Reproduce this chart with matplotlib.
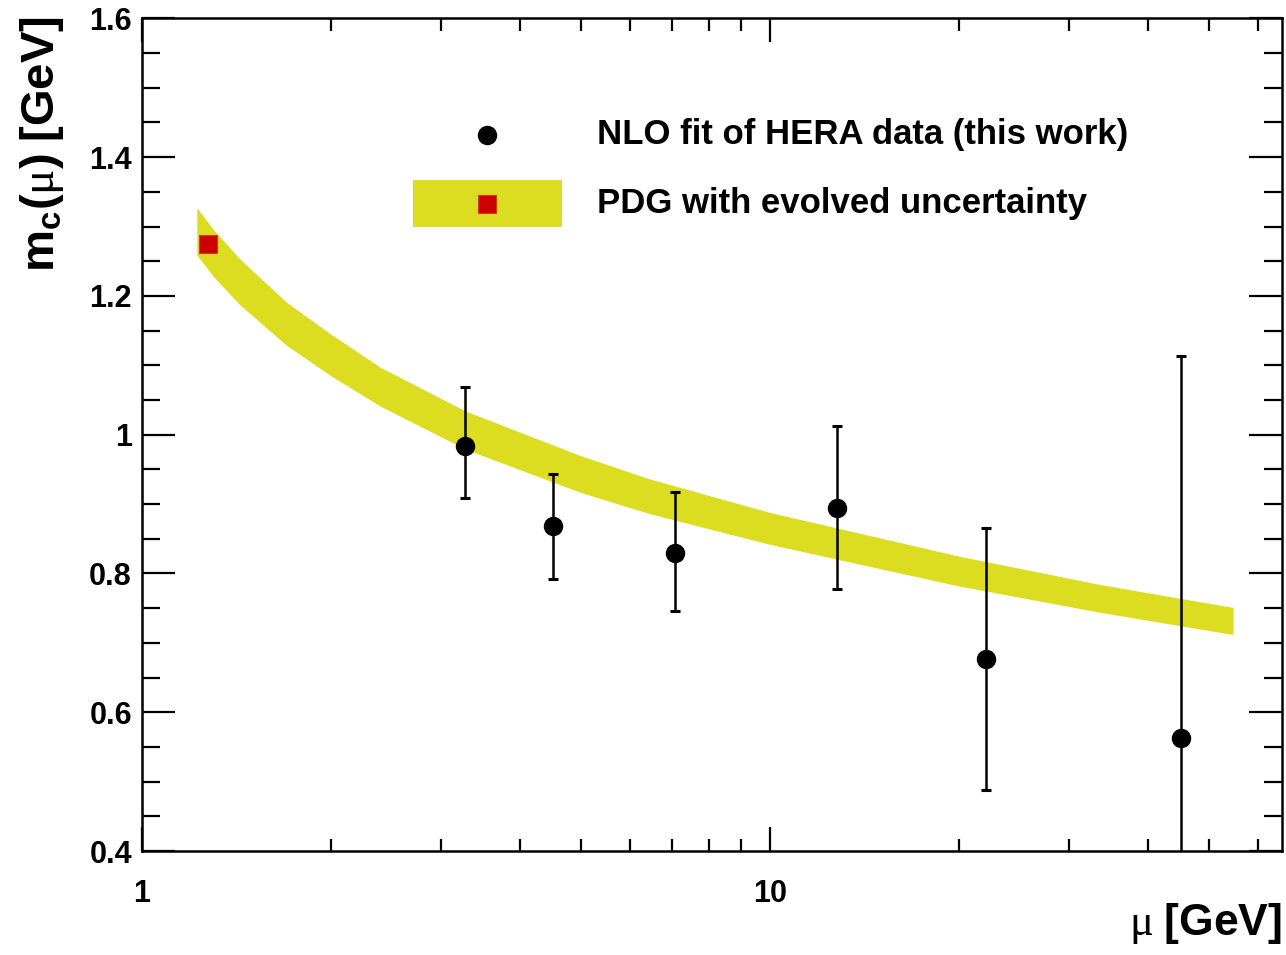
import numpy as np
import matplotlib
matplotlib.use("Agg")
import matplotlib.pyplot as plt
from matplotlib.patches import Rectangle
from matplotlib.ticker import FixedLocator, NullFormatter, FixedFormatter

plt.rcParams.update({
    'font.family': ['Liberation Sans', 'DejaVu Sans'],
    'font.weight': 'bold',
    'mathtext.fontset': 'custom',
    'mathtext.rm': 'Liberation Serif:weight=normal',
    'mathtext.it': 'Liberation Serif:italic:weight=normal',
    'mathtext.bf': 'Liberation Sans:bold',
})

# NLO fit of HERA data (this work)
mu_fit = [3.27, 4.52, 7.07, 12.8, 22.1, 45.2]
mc_fit = [0.984, 0.868, 0.830, 0.895, 0.676, 0.563]
err_up = [0.085, 0.076, 0.088, 0.118, 0.190, 0.550]
err_dn = [0.075, 0.076, 0.084, 0.117, 0.188, 0.550]

# PDG value and evolved uncertainty band
mu_pdg = [1.275]
mc_pdg = [1.275]
mu_band = [1.224, 1.30, 1.434, 1.70, 2.00, 2.40, 3.28, 4.99, 6.45, 10.0, 20.0, 33.6, 54.7]
band_hi = [1.327, 1.296, 1.253, 1.191, 1.145, 1.097, 1.034, 0.970, 0.936, 0.888, 0.825, 0.784, 0.751]
band_lo = [1.259, 1.228, 1.187, 1.129, 1.085, 1.041, 0.979, 0.917, 0.886, 0.842, 0.782, 0.744, 0.712]

yellow = '#dcdc20'
red = '#cc0000'

fig = plt.figure(figsize=(12.86, 9.55), dpi=100)
ax = fig.add_axes([0.1102, 0.1089, 0.8865, 0.8719])

ax.fill_between(mu_band, band_lo, band_hi, color=yellow, lw=0, zorder=1)
ax.plot(mu_pdg, mc_pdg, 's', color=red, ms=13, mec='#d04000', mew=0.8, zorder=3)
ax.errorbar(mu_fit, mc_fit, yerr=[err_dn, err_up], fmt='o', color='black',
            ms=13, elinewidth=1.8, capsize=3.5, capthick=2.2, zorder=4)

ax.set_xscale('log')
ax.set_xlim(1, 65.4)
ax.set_ylim(0.4, 1.6)

ax.xaxis.set_major_locator(FixedLocator([1, 10]))
ax.xaxis.set_major_formatter(FixedFormatter(['1', '10']))
ax.xaxis.set_minor_locator(FixedLocator([2, 3, 4, 5, 6, 7, 8, 9, 20, 30, 40, 50, 60]))
ax.xaxis.set_minor_formatter(NullFormatter())
yt = [0.4, 0.6, 0.8, 1.0, 1.2, 1.4, 1.6]
ax.yaxis.set_major_locator(FixedLocator(yt))
ax.yaxis.set_major_formatter(FixedFormatter(['0.4', '0.6', '0.8', '1', '1.2', '1.4', '1.6']))
ax.yaxis.set_minor_locator(FixedLocator(np.arange(0.4, 1.61, 0.05)))

ax.tick_params(axis='both', which='both', direction='in', top=True, right=True,
               width=1.6, labelsize=22)
ax.tick_params(axis='y', which='major', length=24, pad=7)
ax.tick_params(axis='y', which='minor', length=13)
ax.tick_params(axis='x', which='major', length=17, pad=20)
ax.tick_params(axis='x', which='minor', length=9)
for s in ax.spines.values():
    s.set_linewidth(1.8)

ax.set_ylabel(r'$\mathbf{m_c(}\mathrm{\mu}\mathbf{)\ [GeV]}$', fontsize=34, loc='top')
ax.yaxis.set_label_coords(-0.066, 1.003)
ax.set_xlabel(r'$\mathrm{\mu}\ \mathbf{[GeV]}$', fontsize=32, loc='right')
ax.xaxis.set_label_coords(1.0, -0.060)

# legend
ax.plot([0.303], [0.86], 'o', color='black', ms=13, transform=ax.transAxes)
ax.text(0.399, 0.86, 'NLO fit of HERA data (this work)', transform=ax.transAxes,
        fontsize=25, va='center', ha='left')
ax.add_patch(Rectangle((0.2383, 0.7494), 0.1304, 0.0564, color=yellow, lw=0,
                       transform=ax.transAxes))
ax.plot([0.303], [0.7776], 's', color=red, ms=13, mec='#d04000', mew=0.8,
        transform=ax.transAxes)
ax.text(0.399, 0.7776, 'PDG with evolved uncertainty', transform=ax.transAxes,
        fontsize=25, va='center', ha='left')

fig.savefig('out.png', dpi=100)
